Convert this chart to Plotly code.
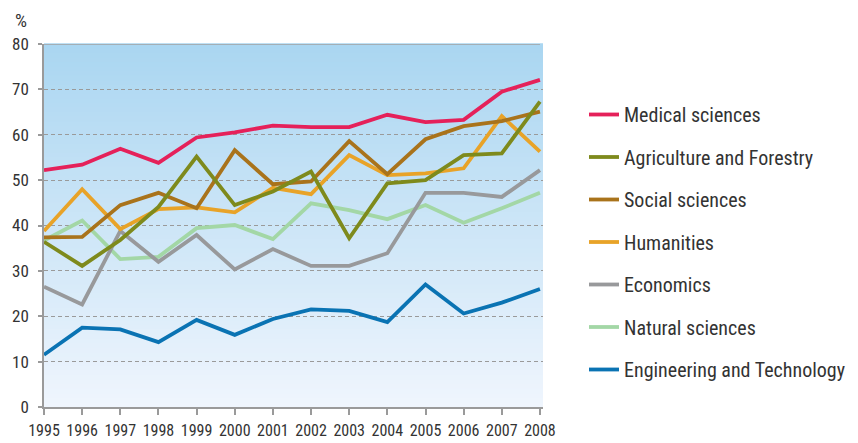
import plotly.graph_objects as go

years = list(range(1995, 2009))

series_names = [
    "Medical sciences",
    "Agriculture and Forestry",
    "Social sciences",
    "Humanities",
    "Economics",
    "Natural sciences",
    "Engineering and Technology",
]

medical = [52.2, 53.4, 56.9, 53.8, 59.4, 60.5, 62.0, 61.7, 61.7, 64.4, 62.8, 63.3, 69.5, 72.1]
agriculture = [36.4, 31.1, 36.8, 44.1, 55.2, 44.5, 47.5, 51.9, 37.2, 49.3, 50.0, 55.5, 55.9, 67.3]
social = [37.4, 37.5, 44.5, 47.2, 43.8, 56.6, 49.1, 49.7, 58.6, 51.3, 59.0, 61.9, 63.0, 65.1]
humanities = [38.8, 48.0, 39.2, 43.6, 44.0, 42.9, 48.3, 46.9, 55.5, 51.1, 51.5, 52.6, 64.1, 56.3]
economics = [26.5, 22.6, 38.8, 32.0, 37.9, 30.3, 34.8, 31.1, 31.1, 33.9, 47.2, 47.2, 46.3, 52.2]
natural = [36.7, 41.1, 32.6, 33.1, 39.4, 40.1, 37.0, 44.9, 43.4, 41.4, 44.5, 40.6, 43.8, 47.2]
engineering = [11.5, 17.5, 17.1, 14.3, 19.2, 15.9, 19.4, 21.5, 21.2, 18.7, 27.0, 20.6, 23.0, 26.0]

y_ticks = [0, 10, 20, 30, 40, 50, 60, 70, 80]

values = [medical, agriculture, social, humanities, economics, natural, engineering]
colors = ["#E5215A", "#7E8A1C", "#A9731B", "#E8A328", "#98999B", "#A3D7A6", "#0A73B3"]

FONT = "Liberation Sans Narrow, Arial Narrow, Roboto Condensed, Liberation Sans, sans-serif"

# page has an 8px body margin; figure is sized so the plot lands where the reference has it
OFF = 8
W, H = 858 - OFF, 443 - OFF
L, T = 44 - OFF, 44 - OFF
R = W - (543 - OFF)
B = H - (407 - OFF)
PW = W - L - R
PH = H - T - B

fig = go.Figure()

for i in reversed(range(len(series_names))):
    fig.add_trace(go.Scatter(
        x=years, y=values[i], mode="lines", name=series_names[i],
        line=dict(color=colors[i], width=3.8),
        legendgroup=series_names[i], legendrank=i + 1,
    ))

# vertical gradient background as thin stripes
top = (0xAA, 0xD6, 0xF1)
bot = (0xEF, 0xF5, 0xFD)
n = 80
shapes = []
for k in range(n):
    t = k / (n - 1)
    c = tuple(round(bot[j] + (top[j] - bot[j]) * t) for j in range(3))
    shapes.append(dict(
        type="rect", xref="paper", yref="paper",
        x0=0, x1=1, y0=k / n, y1=(k + 1) / n + 0.002,
        fillcolor="rgb(%d,%d,%d)" % c, line=dict(width=0), layer="below",
    ))
shapes.append(dict(type="line", xref="x", yref="y", x0=1995, x1=2008, y0=80, y1=80,
                   line=dict(color="#A0A0A0", width=1.5), layer="above"))

fig.update_layout(
    width=W, height=H,
    margin=dict(l=L, r=R, t=T, b=B, autoexpand=False),
    paper_bgcolor="white", plot_bgcolor="rgba(0,0,0,0)",
    shapes=shapes,
    showlegend=True,
    legend=dict(
        x=(584 - 44) / PW, y=1 - (95 - 44) / PH,
        xanchor="left", yanchor="top",
        font=dict(family=FONT, size=20, color="#333333"),
        tracegroupgap=13.5, bgcolor="rgba(0,0,0,0)",
        itemwidth=30,
    ),
    annotations=[dict(text="%", xref="paper", yref="paper", x=-30 / PW, y=1 + 24 / PH,
                      xanchor="left", yanchor="middle", showarrow=False, borderpad=0,
                      font=dict(family=FONT, size=19, color="#333333"))],
)

fig.update_xaxes(
    range=[1995, 2008.08], tickvals=years, ticktext=[str(y) for y in years],
    showgrid=False, zeroline=False,
    showline=True, linecolor="#9A9A9A", linewidth=1.5,
    ticks="outside", ticklen=6, tickcolor="#9A9A9A", tickwidth=1.5,
    ticklabelstandoff=2,
    tickfont=dict(family=FONT, size=16, color="#333333"),
)
fig.update_yaxes(
    range=[0, 80], tickvals=y_ticks,
    showgrid=True, gridcolor="#9A9A9A", gridwidth=1, griddash="4px,3px",
    zeroline=False,
    showline=True, linecolor="#9A9A9A", linewidth=1.5,
    ticks="outside", ticklen=4, tickcolor="#9A9A9A", tickwidth=1.5,
    ticklabelstandoff=6,
    tickfont=dict(family=FONT, size=17, color="#333333"),
)

fig.write_html("out.html")
